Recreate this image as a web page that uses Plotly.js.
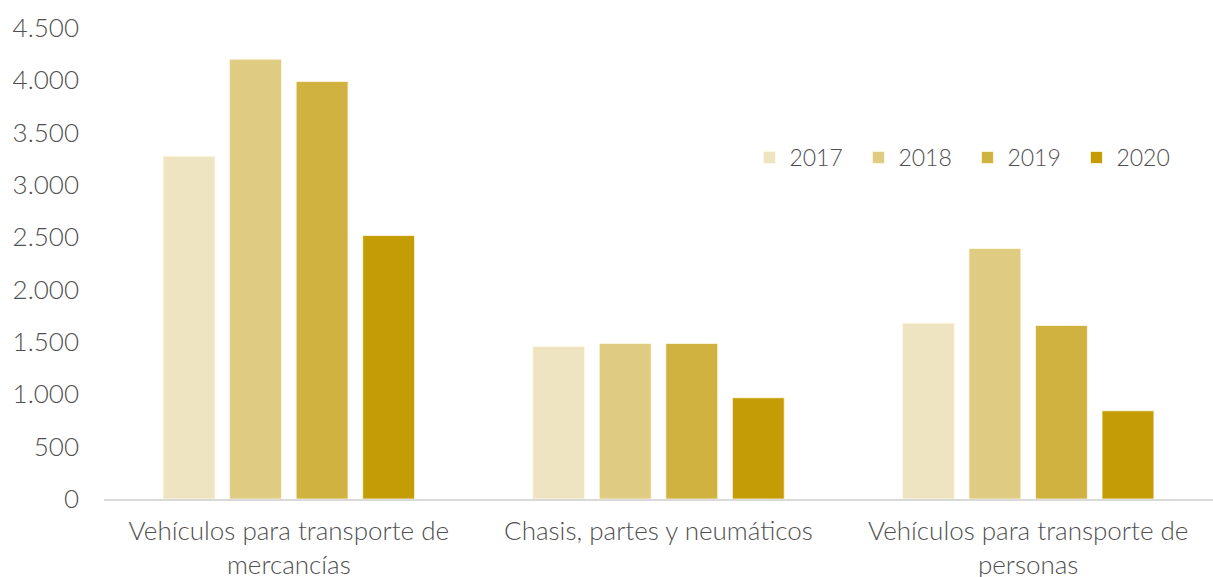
<!DOCTYPE html>
<html>
<head>
<meta charset="utf-8">
<script src="https://cdn.plot.ly/plotly-3.0.1.min.js"></script>
<style>
  html, body { margin: 0; padding: 0; background: #fff; }
  #chart { width: 1213px; height: 577px; }
</style>
</head>
<body>
<div id="chart"></div>
<script>
var categories = [
    'Vehículos para transporte de<br>mercancías',
    'Chasis, partes y neumáticos',
    'Vehículos para transporte de<br>personas'
];
var years = ['2017', '2018', '2019', '2020'];
var v2017 = [3275, 1457, 1680];
var v2018 = [4202, 1486, 2393];
var v2019 = [3989, 1486, 1658];
var v2020 = [2517, 967, 843];
var yTicks = [0, 500, 1000, 1500, 2000, 2500, 3000, 3500, 4000, 4500];

var colors = ['#EFE4C1', '#E0CB82', '#D0B241', '#C39C06'];
var series = [v2017, v2018, v2019, v2020];

var traces = series.map(function(vals, i) {
    return {
        type: 'bar',
        name: years[i],
        x: categories,
        y: vals,
        marker: {color: colors[i], line: {color: 'rgba(255,250,230,0.8)', width: 1}},
        hoverinfo: 'skip'
    };
});

var font = 'Lato, "Open Sans", sans-serif';
var txt = {family: font, size: 26, color: '#4f4f4f', weight: 300};
var legTxt = {family: font, size: 23, color: '#4f4f4f', weight: 300};

var layout = {
    width: 1213,
    height: 577,
    margin: {l: 104, r: 0, t: 28, b: 78, autoexpand: false},
    paper_bgcolor: '#ffffff',
    plot_bgcolor: '#ffffff',
    separators: ',.',
    font: txt,
    barmode: 'group',
    bargap: 0.28,
    bargroupgap: 0.22,
    showlegend: true,
    legend: {
        orientation: 'h',
        x: 0.582, xanchor: 'left',
        y: 0.725, yanchor: 'middle',
        entrywidth: 64,
        itemwidth: 30,
        font: legTxt,
        bgcolor: 'rgba(0,0,0,0)'
    },
    xaxis: {
        showline: true,
        linecolor: '#d9d9d9',
        linewidth: 1.5,
        showgrid: false,
        ticks: '',
        tickangle: 0,
        automargin: false,
        ticklabelstandoff: 8,
        tickfont: txt
    },
    yaxis: {
        range: [0, 4500],
        tickvals: yTicks,
        tickformat: ',.0f',
        showgrid: false,
        zeroline: false,
        showline: false,
        ticks: '',
        automargin: false,
        ticklabelstandoff: 24,
        tickfont: txt
    }
};

Plotly.newPlot('chart', traces, layout, {displayModeBar: false, staticPlot: true});
</script>
</body>
</html>
